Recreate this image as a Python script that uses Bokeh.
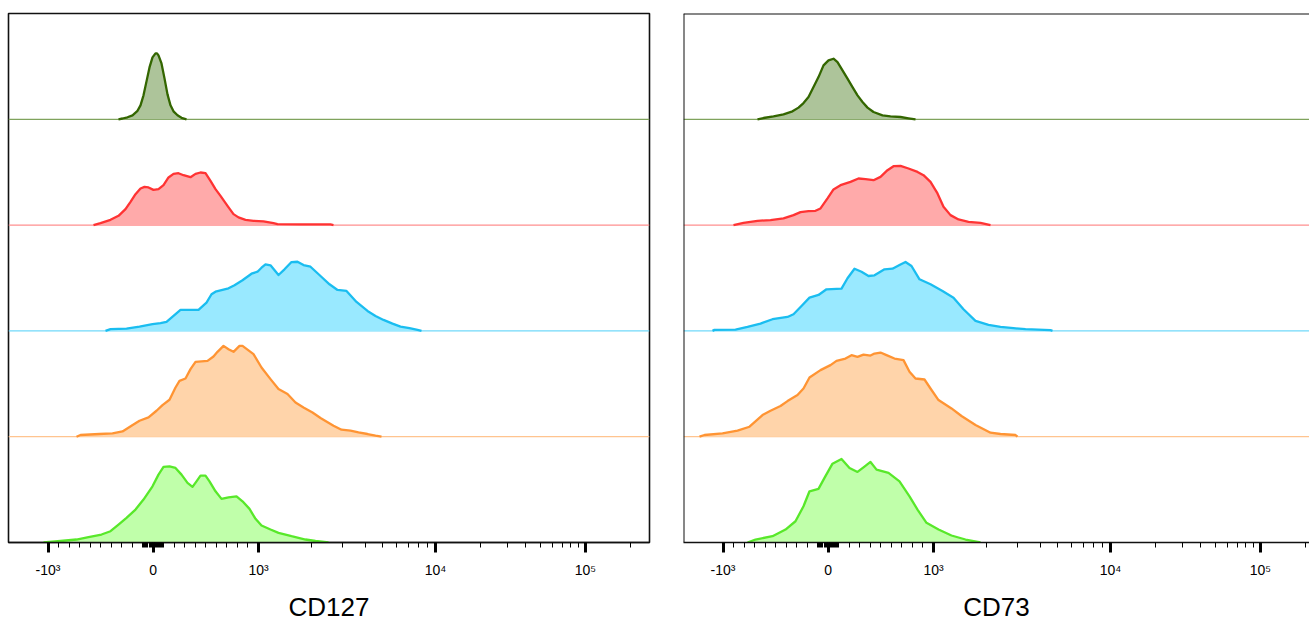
import math
from bokeh.plotting import figure
from bokeh.models import Range1d, FixedTicker, Span
from bokeh.layouts import row
from bokeh.embed import file_html
from bokeh.resources import INLINE

# ---------------- data (x in display channels, y in event counts) ----------------
MARKERS = ["CD127", "CD73"]

# CD127 panel, series top -> bottom
CD127_S1_X = [110, 114, 119, 124, 129, 132, 135, 138, 141, 144, 147, 148.5, 150, 153, 156, 159, 162, 165, 169, 173, 178]
CD127_S1_Y = [0, 0.8, 2, 4, 8.5, 14, 24, 38, 52, 62, 66, 66, 64, 56, 41, 25, 14, 8, 4, 1.5, 0]
CD127_S2_X = [85, 92, 102, 110, 117, 122, 127, 132, 136, 140, 145, 150, 155, 160, 165, 170, 175, 182, 187, 192,
              197, 202, 207, 212, 219, 225, 230, 237, 245, 255, 265, 269, 292, 322, 325]
CD127_S2_Y = [0, 2, 5.3, 9.3, 16, 23.3, 31, 36.7, 38.3, 37.7, 35.3, 36, 40, 47.7, 51.3, 52, 50, 48, 51.3, 52.7,
              52, 44.3, 36, 29.3, 19.3, 11, 7.7, 5.3, 4.3, 3.7, 2, 1, 0.7, 0.7, 0]
CD127_S3_X = [97, 102, 118, 131, 144, 152, 158, 165, 172, 190, 198, 203, 207, 220, 226, 234, 243, 249, 253, 257,
              262, 270, 276, 283, 289, 295, 302, 312, 321, 329, 338, 348, 359, 367, 375, 384, 392, 401, 409, 413]
CD127_S3_Y = [0, 1.7, 2.3, 4.3, 6.7, 7.7, 9, 15, 21, 21, 28.3, 36.7, 39.3, 42.7, 45.7, 50.7, 57.3, 59.3, 63.3, 66.7,
              65.7, 56, 61.7, 69, 69.3, 66, 64.3, 55, 46.7, 41, 40, 29, 20, 15, 11, 7.3, 4.3, 2.7, 1, 0]
CD127_S4_X = [68, 72, 91, 104, 114, 123, 131, 140, 148, 154, 161, 167, 171, 177, 182, 187, 199, 205, 209, 215,
              220, 225, 231, 234, 245, 253, 262, 270, 279, 287, 295, 304, 312, 325, 333, 342, 350, 359, 367, 373]
CD127_S4_Y = [0, 1.7, 2.7, 3.3, 5.3, 11, 16, 19.3, 26, 31.7, 37, 49.3, 56, 58.3, 67.7, 75, 76, 80.3, 85, 91,
              87.7, 85, 91, 91, 82.7, 69.3, 57.7, 47.7, 42.7, 34.3, 29.3, 24.3, 18.7, 11, 7, 6, 4.3, 2.7, 1, 0]
CD127_S5_X = [35, 52, 68, 80, 93, 102, 110, 118, 127, 135, 144, 150, 155, 161, 167, 173, 179, 184, 188, 192,
              197, 201, 207, 213, 220, 228, 234, 241, 247, 253, 262, 270, 283, 297, 307, 320]
CD127_S5_Y = [0, 1.5, 3, 5.3, 8, 11.3, 18, 24.7, 33, 43, 56.3, 68, 75.7, 76.3, 74.7, 68, 59.7, 55.7, 61.3, 67,
              67, 61.3, 51.3, 43.7, 45.3, 46.3, 41.3, 33.7, 23.7, 17, 13, 9.7, 6.3, 3, 1.5, 0]

# CD73 panel, series top -> bottom
CD73_S1_X = [74, 80, 90, 100, 109, 115, 120, 125, 130, 135, 140, 145, 150, 154, 159, 164, 169, 174, 179, 184,
             190, 199, 207, 217, 225, 232]
CD73_S1_Y = [0, 1.3, 3, 5, 8, 11.7, 16.3, 22.3, 32.3, 42.3, 54, 59, 60.7, 57.3, 49, 40.7, 32.3, 24, 17.3, 11.7,
             7.3, 4, 3, 2.3, 1, 0]
CD73_S2_X = [50, 60, 74, 87, 100, 110, 117, 125, 132, 137, 144, 150, 157, 167, 175, 182, 190, 197, 204, 210,
             217, 225, 234, 240, 247, 254, 260, 267, 275, 285, 297, 307]
CD73_S2_Y = [0, 2.3, 4.3, 5, 6.7, 10, 13, 14, 14.3, 16.7, 26.7, 35.7, 40, 43.3, 46.7, 46, 45, 48.3, 55, 59,
             59.3, 56.7, 53.3, 50, 43.3, 31.7, 18.3, 10, 5.7, 3.3, 2.3, 0]
CD73_S3_X = [29, 31, 52, 64, 77, 89, 104, 110, 118, 126, 135, 143, 158, 164, 171, 178, 185, 191, 201, 209,
             216, 222, 228, 236, 247, 259, 270, 280, 292, 305, 317, 330, 342, 367, 369]
CD73_S3_Y = [0, 1, 1.3, 4, 7.3, 11.7, 14, 16.7, 25, 33.3, 36, 41.7, 42.3, 52.7, 62.3, 59.3, 55, 55.7, 61.7, 62.3,
             66, 69, 65, 51.7, 46.7, 40, 33.3, 21.7, 10, 6, 4, 2.7, 1.7, 0.7, 0]
CD73_S4_X = [16, 21, 39, 54, 66, 79, 87, 97, 104, 114, 120, 126, 137, 147, 153, 162, 168, 174, 180, 187,
             191, 197, 203, 211, 220, 226, 232, 241, 247, 255, 268, 278, 292, 307, 317, 332, 334]
CD73_S4_Y = [0, 1.7, 3.3, 6, 10, 21.7, 26, 30.7, 35.7, 41.7, 48.3, 59.3, 66.7, 71.7, 76, 78.3, 81.7, 80, 82.3, 81.3,
             83.3, 84.3, 81.7, 78.3, 76.7, 65, 58.3, 57.3, 48.3, 36.7, 28.3, 20.7, 11.7, 4, 2.7, 1.7, 0]
CD73_S5_X = [64, 72, 89, 102, 112, 120, 126, 135, 141, 149, 158, 166, 174, 180, 187, 193, 205, 216, 226, 234,
             243, 255, 268, 282, 297]
CD73_S5_Y = [0, 3, 6.3, 13, 21.3, 36.3, 51.3, 53.7, 64.7, 79, 83.7, 74.7, 70.7, 75.3, 80.7, 73, 69.7, 61.3, 46.3, 33,
             19.7, 13, 7, 3, 0]

# axis tick values and their labels
TICK_VALUES = [-1000, 0, 1000, 10000, 100000]
TICK_LABELS = ["-10\u00b3", "0", "10\u00b3", "10\u2074", "10\u2075"]
MINOR_VALUES = ([-v for v in range(100, 1000, 100)] + [-v for v in range(10, 100, 10)]
                + list(range(10, 100, 10)) + list(range(100, 1000, 100))
                + list(range(2000, 10000, 1000)) + list(range(20000, 100000, 10000)) + [200000])

# ---------------- styles ----------------
LINE_COLORS = ["#336600", "#ff3333", "#1abdf0", "#ff9433", "#58e82a"]
FILL_COLORS = ["#adc49a", "#ffaaaa", "#99e9ff", "#ffd4aa", "#c0ffaa"]
BASE_COLORS = ["#7fa35c", "#ff8f8f", "#70d9fa", "#ffc48f", "#58e82a"]
FONT = "Liberation Sans"
BAND = 106          # counts per ridge band
N_BANDS = 5
FRAME_H = BAND * N_BANDS


def to_channel(v):
    """biexponential display transform (value -> display channel)"""
    if abs(v) <= 1000:
        return 144.75 + 105.25 * v / 1000.0
    if v > 10000:
        return 427.0 + 150.0 * math.log10(v / 10000.0)
    if v > 1000:
        return 250.0 + 177.0 * math.log10(v / 1000.0)
    return 39.5 - 177.0 * math.log10(-v / 1000.0)


def make_panel(marker, series, frame_w, border_left, border_right, full_outline):
    p = figure(width=border_left + frame_w + border_right, height=624,
               x_range=Range1d(0, frame_w), y_range=Range1d(0, FRAME_H),
               output_backend="svg", toolbar_location=None, y_axis_location=None,
               min_border_left=border_left, min_border_right=border_right,
               min_border_top=13, min_border_bottom=81)
    p.xgrid.visible = False
    p.ygrid.visible = False
    p.background_fill_color = "white"
    p.border_fill_color = "white"
    if full_outline:
        p.outline_line_color = "#111111"
        p.outline_line_width = 1.6
    else:
        p.outline_line_color = None
        p.add_layout(Span(location=0, dimension="height", line_color="#111111", line_width=2))
        p.add_layout(Span(location=FRAME_H, dimension="width", line_color="#111111", line_width=2))

    for i, (xs, hs) in enumerate(series):
        off = BAND * (N_BANDS - 1 - i)
        if i < N_BANDS - 1:
            p.add_layout(Span(location=off, dimension="width", line_color=BASE_COLORS[i],
                              line_width=1.3, level="underlay"))
        ys = [off + h for h in hs]
        p.varea(x=xs, y1=[off] * len(xs), y2=ys, fill_color=FILL_COLORS[i], fill_alpha=1.0)
        p.line(xs, ys, line_color=LINE_COLORS[i], line_width=2.3, line_join="round")

    ax = p.xaxis[0]
    ticks = [to_channel(v) for v in TICK_VALUES]
    ax.ticker = FixedTicker(ticks=ticks, minor_ticks=[to_channel(v) for v in MINOR_VALUES])
    ax.major_label_overrides = {t: lab for t, lab in zip(ticks, TICK_LABELS)}
    ax.major_label_text_font = FONT
    ax.major_label_text_font_size = "14px"
    ax.major_label_text_align = "left"
    ax.major_label_text_color = "black"
    ax.major_label_standoff = 9
    ax.axis_line_color = "#111111"
    ax.axis_line_width = 1.5
    ax.major_tick_in = 0
    ax.major_tick_out = 10
    ax.major_tick_line_width = 3
    ax.major_tick_line_color = "black"
    ax.minor_tick_in = 0
    ax.minor_tick_out = 5
    ax.minor_tick_line_width = 1
    ax.minor_tick_line_color = "black"
    ax.axis_label = marker
    ax.axis_label_text_font = FONT
    ax.axis_label_text_font_size = "26px"
    ax.axis_label_text_font_style = "normal"
    ax.axis_label_text_color = "black"
    ax.axis_label_standoff = 11
    return p


cd127 = [(CD127_S1_X, CD127_S1_Y), (CD127_S2_X, CD127_S2_Y), (CD127_S3_X, CD127_S3_Y),
         (CD127_S4_X, CD127_S4_Y), (CD127_S5_X, CD127_S5_Y)]
cd73 = [(CD73_S1_X, CD73_S1_Y), (CD73_S2_X, CD73_S2_Y), (CD73_S3_X, CD73_S3_Y),
        (CD73_S4_X, CD73_S4_Y), (CD73_S5_X, CD73_S5_Y)]

p1 = make_panel(MARKERS[0], cd127, 641, 8, 33, True)
p2 = make_panel(MARKERS[1], cd73, 626, 1, 0, False)

layout = row(p1, p2)
open("out.html", "w").write(file_html(layout, INLINE))
